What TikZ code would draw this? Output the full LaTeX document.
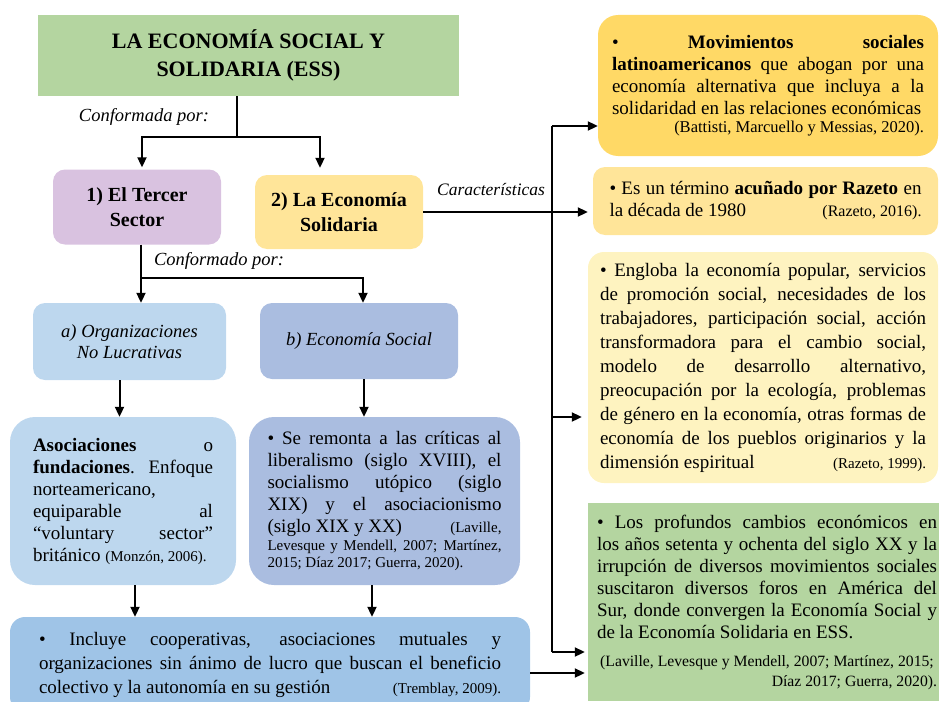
\documentclass[tikz,border=0pt]{standalone}
\usepackage{fontspec}
\setmainfont{Liberation Serif}
\usepackage{tikz}
\usetikzlibrary{positioning, calc, shapes, arrows.meta}

\definecolor{essgreen}{HTML}{B4D5A0}
\definecolor{lilac}{HTML}{D9C2E0}
\definecolor{sand}{HTML}{FFE599}
\definecolor{gold}{HTML}{FFD966}
\definecolor{cream}{HTML}{FEF3C0}
\definecolor{skylite}{HTML}{BDD7EE}
\definecolor{slate}{HTML}{AABDE0}
\definecolor{skyblue}{HTML}{9FC4E7}

\newcommand{\cit}[2][15]{{\fontsize{#1}{#1}\selectfont #2}}

\tikzset{
  box/.style={inner sep=0pt, rounded corners=12pt, font=\fontsize{19}{22}\selectfont},
  head/.style={box, align=center, font=\fontsize{20}{25}\selectfont\bfseries},
  kind/.style={box, align=center, font=\fontsize{18.5}{21}\selectfont\itshape},
  para/.style={box, align=justify},
  note/.style={inner sep=0pt, font=\fontsize{18.5}{21}\selectfont\itshape},
  wire/.style={line width=2pt},
  lnk/.style={wire, -{Triangle[length=10pt,width=9pt]}},
}

\begin{document}
\begin{tikzpicture}[x=1pt, y=-1pt]
\useasboundingbox (0,0) rectangle (939,701);
\clip (0,0) rectangle (939,701);

% left side
\node[head, fill=essgreen, sharp corners, minimum width=421pt, minimum height=81pt,
      font=\fontsize{22}{28}\selectfont\bfseries] (essbox) at (248.5,55.5) {LA ECONOMÍA SOCIAL Y\\SOLIDARIA (ESS)};
\node[head, fill=lilac, minimum width=168pt, minimum height=75pt] (sector) at (137,207) {1) El Tercer\\Sector};
\node[head, fill=sand, minimum width=168pt, minimum height=74pt] (solid) at (339,212) {2) La Economía\\Solidaria};
\node[kind, fill=skylite, minimum width=193pt, minimum height=77pt] (orgs) at (129.5,341.5) {a) Organizaciones\\No Lucrativas};
\node[kind, fill=slate, minimum width=198pt, minimum height=76pt] (esoc) at (359,341) {b) Economía Social};

\node[para, fill=skylite, rounded corners=25pt, minimum width=226pt, minimum height=168pt, text width=180pt] (asoc) at (123,501)
  {\textbf{Asociaciones} o\linebreak \textbf{fundaciones}. Enfoque\linebreak norteamericano,\linebreak equiparable al\linebreak “voluntary sector”\linebreak británico \cit{(Monzón, 2006).}};
\node[para, fill=slate, rounded corners=25pt, minimum width=271pt, minimum height=168pt, text width=234pt] (remonta) at (384.5,501)
  {• Se remonta a las críticas al\linebreak liberalismo (siglo XVIII), el\linebreak socialismo utópico (siglo\linebreak XIX) y el asociacionismo\linebreak (siglo XIX y XX)\hspace*{\fill}\cit{(Laville,}\par
   {\fontsize{15}{17.5}\selectfont Levesque y Mendell, 2007; Martínez,\linebreak 2015; Díaz 2017; Guerra, 2020).\par}};
\node[para, fill=skyblue, rounded corners=15pt, minimum width=520pt, minimum height=95pt, text width=462pt,
      font=\fontsize{19}{24}\selectfont] (incl) at (270,664.5)
  {• Incluye cooperativas, asociaciones mutuales y\linebreak organizaciones sin ánimo de lucro que buscan el beneficio\linebreak colectivo y la autonomía en su gestión\hspace*{\fill}\cit{(Tremblay, 2009).}\hspace*{10pt}};

% right side
\node[para, fill=gold, rounded corners=20pt, minimum width=340pt, minimum height=141pt, text width=312pt] (movs) at (768,85.5)
  {• \textbf{Movimientos sociales}\linebreak \textbf{latinoamericanos} que abogan por una\linebreak economía alternativa que incluya a la\linebreak solidaridad en las relaciones económicas\par
   {\raggedleft\fontsize{16.5}{18}\selectfont (Battisti, Marcuello y Messias, 2020).\par}};
\node[para, fill=sand, minimum width=345pt, minimum height=68pt, text width=312pt] (term) at (765.5,201)
  {• Es un término \textbf{acuñado por Razeto} en\linebreak la década de 1980\hspace*{\fill}\cit[16]{(Razeto, 2016).}};
\node[para, fill=cream, rounded corners=16pt, minimum width=350pt, minimum height=231pt, text width=326pt,
      font=\fontsize{19}{24}\selectfont] (engl) at (763,367.5)
  {• Engloba la economía popular, servicios\linebreak de promoción social, necesidades de los\linebreak trabajadores, participación social, acción\linebreak transformadora para el cambio social,\linebreak modelo de desarrollo alternativo,\linebreak preocupación por la ecología, problemas\linebreak de género en la economía, otras formas de\linebreak economía de los pueblos originarios y la\linebreak dimensión espiritual\hspace*{\fill}\cit{(Razeto, 1999).}};
\node[para, fill=essgreen, sharp corners, minimum width=358pt, minimum height=198pt, text width=340pt] (foros) at (767,602)
  {• Los profundos cambios económicos en\linebreak los años setenta y ochenta del siglo XX y la\linebreak irrupción de diversos movimientos sociales\linebreak suscitaron diversos foros en América del\linebreak Sur, donde convergen la Economía Social y\linebreak de la Economía Solidaria en ESS.\par\vspace{8pt}
   {\raggedleft\fontsize{15.7}{20}\selectfont (Laville, Levesque y Mendell, 2007; Martínez, 2015;\newline Díaz 2017; Guerra, 2020).\par}};

% connectors
\coordinate (j1) at (237,137);
\coordinate (j2) at (141,278);
\coordinate (hub) at (552,126);
\coordinate (hubmid) at (552,417);
\coordinate (hubend) at (552,652);

\draw[wire] (essbox.south -| j1) -- node[note, left=27pt] {Conformada por:} (j1);
\draw[lnk, shorten >=2pt] (j1) -| ([xshift=5pt]sector.north);
\draw[lnk, shorten >=7pt] (j1) -| ([xshift=-19pt]solid.north);
\draw[wire] (sector.south -| j2) -- node[note, right=12pt] {Conformado por:} (j2);
\draw[lnk] (j2) -- (j2 |- orgs.north);
\draw[lnk] (j2) -| ([xshift=4pt]esoc.north);
\draw[lnk] ([xshift=-10pt]orgs.south) -- ([xshift=-10pt]orgs.south |- asoc.north);
\draw[lnk] ([xshift=5pt]esoc.south) -- ([xshift=5pt]esoc.south |- remonta.north);
\draw[lnk] ([xshift=12pt]asoc.south) -- ([xshift=12pt]asoc.south |- incl.north);
\draw[lnk] ([xshift=-12.5pt]remonta.south) -- ([xshift=-12.5pt]remonta.south |- incl.north);

\draw[lnk, shorten >=5pt] (solid.east) -- node[note, above=15pt, pos=0.4, font=\fontsize{17.5}{20}\selectfont\itshape] {Características} (solid.east -| term.west);
\draw[wire] (hub) -- (hubend);
\draw[lnk] (hub) -- (hub -| movs.west);
\draw[lnk, shorten >=6pt] (hubmid) -- (hubmid -| engl.west);
\draw[lnk, shorten >=3pt] (hubend) -- (hubend -| foros.west);
\draw[lnk, shorten >=3pt] ([yshift=-8.5pt]incl.east) -- ([yshift=-8.5pt]incl.east -| foros.west);
\end{tikzpicture}
\end{document}
